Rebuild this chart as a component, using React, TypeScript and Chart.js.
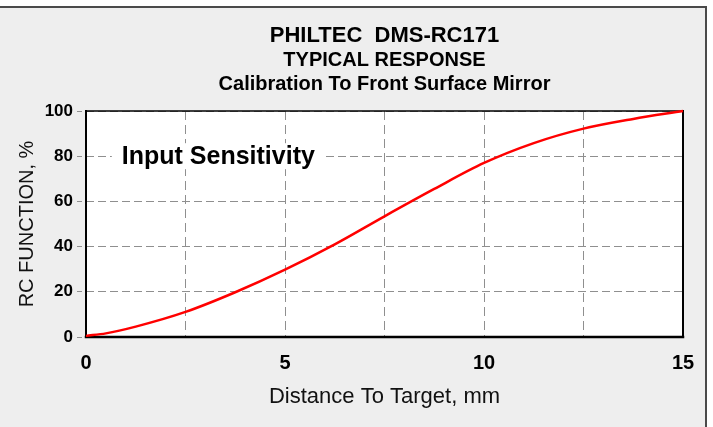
import React, { useEffect, useRef } from "react";
import { Chart, registerables } from "chart.js";

Chart.register(...registerables);

// ---- data ----
const distanceMm = [0, 0.5, 1.25, 2.5, 3.75, 5, 6.25, 7.5, 8.75, 10, 11.25, 12.5, 13.75, 15];
const rcFunctionPct = [0.5, 1.6, 4.6, 11.1, 19.8, 29.8, 41, 53.4, 65.5, 77, 85.8, 92.2, 96.5, 100];
const xGridValues = [0, 2.5, 5, 7.5, 10, 12.5, 15];
const xTickLabels = [0, 5, 10, 15];
const yTickValues = [0, 20, 40, 60, 80, 100];
const titleLines = ["PHILTEC  DMS-RC171", "TYPICAL RESPONSE", "Calibration To Front Surface Mirror"];
const annotationText = "Input Sensitivity";
const annotationAt = { x: 0.9, y: 80 };
const xAxisTitle = "Distance To Target, mm";
const yAxisTitle = "RC FUNCTION, %";

const FONT = "'Liberation Sans', Arial, Helvetica, sans-serif";
const GRID = "#8f8f8f";

const plotBackground = {
  id: "plotBackground",
  beforeDraw(chart: any) {
    const { ctx, chartArea: a } = chart;
    ctx.save();
    ctx.fillStyle = "#ffffff";
    ctx.fillRect(a.left, a.top, a.right - a.left, a.bottom - a.top);
    ctx.restore();
  },
};

const frameAndAnnotation = {
  id: "frameAndAnnotation",
  beforeDatasetsDraw(chart: any) {
    const { ctx, chartArea: a, scales } = chart;
    ctx.save();
    // annotation with white backing
    ctx.font = `bold 25px ${FONT}`;
    const tx = scales.x.getPixelForValue(annotationAt.x);
    const ty = scales.y.getPixelForValue(annotationAt.y);
    const w = ctx.measureText(annotationText).width;
    ctx.fillStyle = "#ffffff";
    ctx.fillRect(tx - 10, ty - 13, w + 18, 26);
    ctx.fillStyle = "#000000";
    ctx.textBaseline = "alphabetic";
    ctx.textAlign = "left";
    ctx.fillText(annotationText, tx, ty + 8);

    // frame
    ctx.strokeStyle = "#000000";
    ctx.lineCap = "square";
    const edge = (x1: number, y1: number, x2: number, y2: number, lw: number) => {
      ctx.lineWidth = lw;
      ctx.beginPath();
      ctx.moveTo(x1, y1);
      ctx.lineTo(x2, y2);
      ctx.stroke();
    };
    edge(a.left, a.top, a.right, a.top, 1.5);
    edge(a.right, a.top, a.right, a.bottom, 2);
    edge(a.left, a.bottom, a.right, a.bottom, 2.5);
    edge(a.left, a.top, a.left, a.bottom, 2);
    ctx.restore();
  },
  afterDraw(chart: any) {
    const { ctx, chartArea: a } = chart;
    const cx = (a.left + a.right) / 2;
    ctx.save();
    ctx.fillStyle = "#000000";
    ctx.textAlign = "center";
    ctx.textBaseline = "alphabetic";
    const specs = [
      { size: 22, base: 42 },
      { size: 20, base: 66 },
      { size: 20, base: 90 },
    ];
    titleLines.forEach((t, i) => {
      ctx.font = `bold ${specs[i].size}px ${FONT}`;
      ctx.fillText(t, cx, specs[i].base);
    });
    ctx.restore();
  },
};

export default function App() {
  const ref = useRef<HTMLCanvasElement | null>(null);

  useEffect(() => {
    if (!ref.current) return;
    const chart = new Chart(ref.current, {
      type: "line",
      data: {
        datasets: [
          {
            data: distanceMm.map((x, i) => ({ x, y: rcFunctionPct[i] })),
            borderColor: "#ff0000",
            borderWidth: 2.5,
            pointRadius: 0,
            fill: false,
            cubicInterpolationMode: "monotone",
            clip: 4,
          },
        ],
      },
      options: {
        animation: false,
        responsive: false,
        devicePixelRatio: 1,
        layout: { padding: { top: 111, right: 30, bottom: 0, left: 0 } },
        plugins: {
          legend: { display: false },
          tooltip: { enabled: false },
          title: { display: false },
        },
        scales: {
          x: {
            type: "linear",
            min: 0,
            max: 15,
            afterBuildTicks: (s: any) => {
              s.ticks = xGridValues.map((v) => ({ value: v }));
            },
            ticks: {
              autoSkip: false,
              maxRotation: 0,
              padding: 14,
              color: "#000000",
              font: { family: FONT, size: 20, weight: "bold" },
              callback: (v: any) => (xTickLabels.includes(Number(v)) ? String(v) : ""),
            },
            grid: { color: GRID, lineWidth: 1, drawTicks: false },
            border: { display: false, dash: [9, 5] },
            title: {
              display: true,
              text: xAxisTitle,
              color: "#111111",
              font: { family: FONT, size: 22 },
              padding: { top: 0, bottom: 17 },
            },
            afterFit: (s: any) => {
              s.height = 90;
            },
          },
          y: {
            min: 0,
            max: 100,
            afterBuildTicks: (s: any) => {
              s.ticks = yTickValues.map((v) => ({ value: v }));
            },
            ticks: {
              padding: 4,
              color: "#000000",
              font: { family: FONT, size: 17, weight: "bold" },
            },
            grid: {
              color: GRID,
              lineWidth: 1,
              tickLength: 9,
              tickColor: GRID,
              tickBorderDash: [5, 4],
            },
            border: { display: false, dash: [8, 4] },
            title: {
              display: true,
              text: yAxisTitle,
              color: "#111111",
              font: { family: FONT, size: 20 },
              padding: { top: 15, bottom: 0 },
            },
            afterFit: (s: any) => {
              s.width = 86;
            },
          },
        },
      },
      plugins: [plotBackground, frameAndAnnotation],
    } as any);
    return () => chart.destroy();
  }, []);

  return (
    <div
      style={{
        position: "fixed",
        left: 0,
        top: 0,
        width: 713,
        height: 427,
        background: "#ffffff",
        overflow: "hidden",
      }}
    >
      <div
        style={{
          position: "absolute",
          left: -4,
          top: 6,
          width: 711,
          height: 440,
          background: "#eeeeee",
          border: "2px solid #4a4a4a",
          boxSizing: "border-box",
        }}
      />
      <canvas
        ref={ref}
        width={713}
        height={427}
        style={{ position: "absolute", left: 0, top: 0, width: 713, height: 427 }}
      />
    </div>
  );
}
